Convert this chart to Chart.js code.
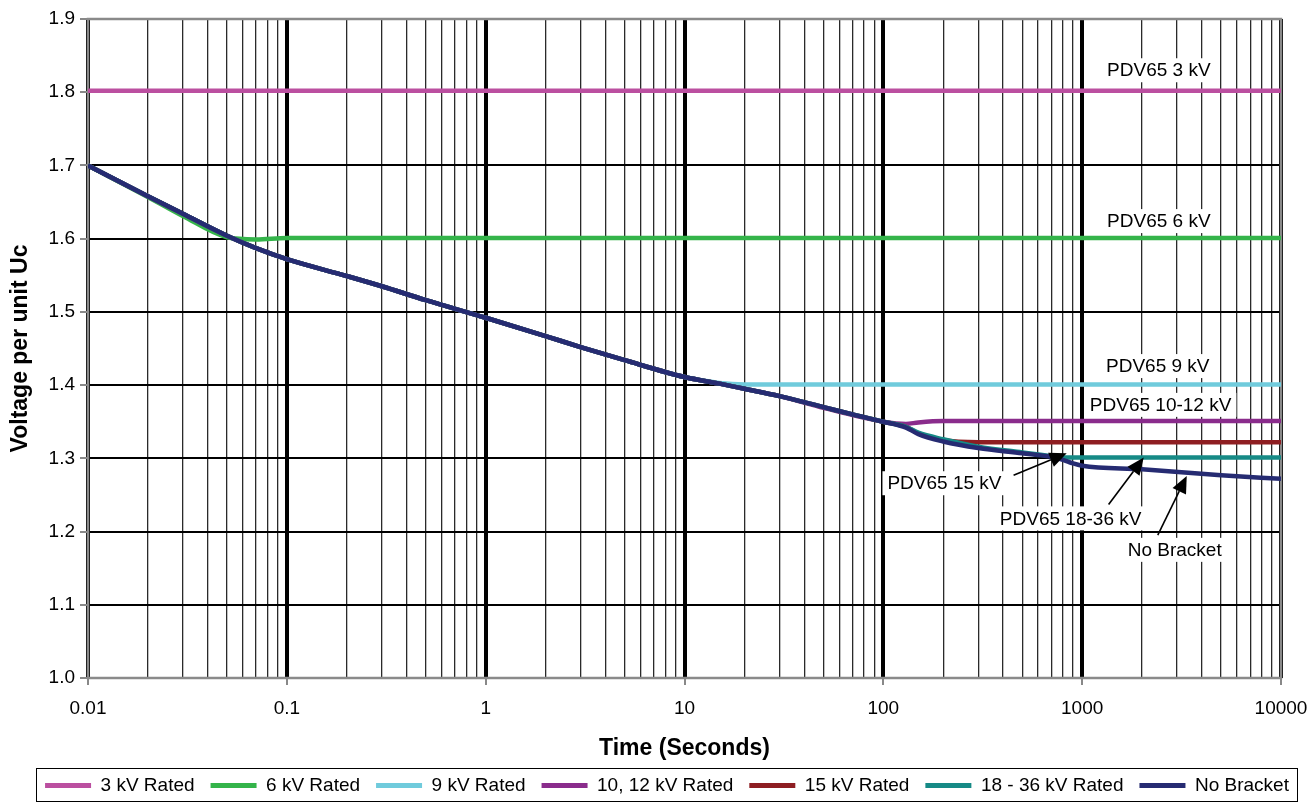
<!DOCTYPE html>
<html>
<head>
<meta charset="utf-8">
<title>Voltage per unit Uc vs time</title>
<script src="https://cdn.jsdelivr.net/npm/chart.js@4.4.1/dist/chart.umd.min.js"></script>
<style>
    html, body { margin: 0; padding: 0; background: #ffffff; }
    #wrap { width: 1310px; height: 803px; }
</style>
</head>
<body>
<div id="wrap"><canvas id="mainChart" width="1310" height="803"></canvas></div>
<script>
// time points (seconds), shared by every curve
const times = [0.01, 0.02, 0.03, 0.05, 0.07, 0.1, 0.2, 0.3, 0.5, 1, 2, 3, 5, 10, 15, 20,
               30, 50, 70, 100, 130, 150, 200, 300, 500, 700, 800, 900, 1000, 2000, 5000, 10000]

// voltage per unit Uc, one value per time point
const rated3kV = [1.802, 1.802, 1.802, 1.802, 1.802, 1.802, 1.802, 1.802, 1.802, 1.802, 1.802, 1.802, 1.802, 1.802, 1.802, 1.802,
                  1.802, 1.802, 1.802, 1.802, 1.802, 1.802, 1.802, 1.802, 1.802, 1.802, 1.802, 1.802, 1.802, 1.802, 1.802, 1.802]
const rated6kV = [1.700, 1.657, 1.631, 1.602, 1.599, 1.601, 1.601, 1.601, 1.601, 1.601, 1.601, 1.601, 1.601, 1.601, 1.601, 1.601,
                  1.601, 1.601, 1.601, 1.601, 1.601, 1.601, 1.601, 1.601, 1.601, 1.601, 1.601, 1.601, 1.601, 1.601, 1.601, 1.601]
const rated9kV = [1.700, 1.658, 1.634, 1.604, 1.587, 1.572, 1.549, 1.535, 1.516, 1.492, 1.467, 1.452, 1.434, 1.411, 1.403, 1.401,
                  1.401, 1.401, 1.401, 1.401, 1.401, 1.401, 1.401, 1.401, 1.401, 1.401, 1.401, 1.401, 1.401, 1.401, 1.401, 1.401]
const rated10kV = [1.700, 1.658, 1.634, 1.604, 1.587, 1.572, 1.549, 1.535, 1.516, 1.492, 1.467, 1.452, 1.434, 1.411, 1.402, 1.395,
                   1.385, 1.369, 1.359, 1.350, 1.347, 1.349, 1.351, 1.351, 1.351, 1.351, 1.351, 1.351, 1.351, 1.351, 1.351, 1.351]
const rated15kV = [1.700, 1.658, 1.634, 1.604, 1.587, 1.572, 1.549, 1.535, 1.516, 1.492, 1.467, 1.452, 1.434, 1.411, 1.402, 1.395,
                   1.385, 1.370, 1.360, 1.350, 1.343, 1.334, 1.325, 1.322, 1.322, 1.322, 1.322, 1.322, 1.322, 1.322, 1.322, 1.322]
const rated18kV = [1.700, 1.658, 1.634, 1.604, 1.587, 1.572, 1.549, 1.535, 1.516, 1.492, 1.467, 1.452, 1.434, 1.411, 1.402, 1.395,
                   1.385, 1.370, 1.360, 1.350, 1.343, 1.335, 1.326, 1.316, 1.308, 1.303, 1.301, 1.301, 1.301, 1.301, 1.301, 1.301]
const noBracket = [1.700, 1.658, 1.634, 1.604, 1.587, 1.572, 1.549, 1.535, 1.516, 1.492, 1.467, 1.452, 1.434, 1.411, 1.402, 1.395,
                   1.385, 1.370, 1.360, 1.350, 1.342, 1.333, 1.323, 1.314, 1.307, 1.302, 1.298, 1.293, 1.290, 1.285, 1.277, 1.272]

const seriesNames = ['3 kV Rated', '6 kV Rated', '9 kV Rated', '10, 12 kV Rated', '15 kV Rated', '18 - 36 kV Rated', 'No Bracket']
const seriesValues = [rated3kV, rated6kV, rated9kV, rated10kV, rated15kV, rated18kV, noBracket]
const seriesColors = ['#BB4FA0', '#34B44A', '#70CBDC', '#8A2C8C', '#8E1E22', '#168A86', '#262B72']

// axes
const decades = [0.01, 0.1, 1, 10, 100, 1000, 10000]
const xTickLabels = ['0.01', '0.1', '1', '10', '100', '1000', '10000']
const yTickValues = [1.0, 1.1, 1.2, 1.3, 1.4, 1.5, 1.6, 1.7, 1.8, 1.9]

// callout labels (data units: time, voltage)
const noteTexts = ['PDV65 3 kV', 'PDV65 6 kV', 'PDV65 9 kV', 'PDV65 10-12 kV', 'PDV65 15 kV', 'PDV65 18-36 kV', 'No Bracket']
const noteTimes = [2430, 2430, 2400, 2480, 203, 875, 2920]
const noteVolts = [1.830, 1.624, 1.426, 1.373, 1.266, 1.218, 1.175]

// callout arrows, from label to curve
const arrowFromTimes = [452, 1358, 2400]
const arrowFromVolts = [1.277, 1.237, 1.195]
const arrowToTimes = [836, 2040, 3357]
const arrowToVolts = [1.307, 1.301, 1.276]

// minor log grid: 1..9 in each decade
const gridTimes = []
decades.forEach(d => {
    for (let m = 1; m <= 9; m++) {
        if (d * m <= 10000) gridTimes.push(d === 10000 ? d : d * m)
        if (d === 10000) break
    }
})

Chart.defaults.font.family = "'Liberation Sans', Arial, sans-serif"
Chart.defaults.color = '#000'

const plotFrame = {
    id: 'plotFrame',
    beforeDatasetsDraw(chart) {
        const {ctx, chartArea: a} = chart
        ctx.save()
        ctx.strokeStyle = '#8a8a8a'
        ctx.lineWidth = 2.5
        ctx.strokeRect(a.left, a.top, a.right - a.left, a.bottom - a.top)
        ctx.restore()
    }
}

const callouts = {
    id: 'callouts',
    afterDatasetsDraw(chart) {
        const {ctx} = chart
        const xs = chart.scales.x
        const ys = chart.scales.y
        ctx.save()
        ctx.font = "19px 'Liberation Sans', Arial, sans-serif"
        ctx.textAlign = 'center'
        ctx.textBaseline = 'middle'
        noteTexts.forEach((t, i) => {
            const px = xs.getPixelForValue(noteTimes[i])
            const py = ys.getPixelForValue(noteVolts[i])
            const w = ctx.measureText(t).width
            ctx.fillStyle = '#fff'
            ctx.fillRect(px - w / 2 - 5, py - 12, w + 10, 24)
            ctx.fillStyle = '#000'
            ctx.fillText(t, px, py + 1)
        })
        ctx.strokeStyle = '#000'
        ctx.fillStyle = '#000'
        ctx.lineWidth = 1.6
        arrowFromTimes.forEach((t, i) => {
            const x0 = xs.getPixelForValue(t)
            const y0 = ys.getPixelForValue(arrowFromVolts[i])
            const x1 = xs.getPixelForValue(arrowToTimes[i])
            const y1 = ys.getPixelForValue(arrowToVolts[i])
            const ang = Math.atan2(y1 - y0, x1 - x0)
            const len = 17
            const half = 7.5
            const bx = x1 - len * Math.cos(ang)
            const by = y1 - len * Math.sin(ang)
            ctx.beginPath()
            ctx.moveTo(x0, y0)
            ctx.lineTo(bx, by)
            ctx.stroke()
            ctx.beginPath()
            ctx.moveTo(x1, y1)
            ctx.lineTo(bx + half * Math.sin(ang), by - half * Math.cos(ang))
            ctx.lineTo(bx - half * Math.sin(ang), by + half * Math.cos(ang))
            ctx.closePath()
            ctx.fill()
        })
        ctx.restore()
    }
}

const legendFrame = {
    id: 'legendFrame',
    afterDraw(chart) {
        const boxes = chart.legend && chart.legend.legendHitBoxes
        if (!boxes || !boxes.length) return
        const left = Math.min(...boxes.map(b => b.left))
        const right = Math.max(...boxes.map(b => b.left + b.width))
        const top = Math.min(...boxes.map(b => b.top))
        const bottom = Math.max(...boxes.map(b => b.top + b.height))
        const {ctx} = chart
        ctx.save()
        ctx.strokeStyle = '#000'
        ctx.lineWidth = 1
        ctx.strokeRect(Math.round(left - 9) + 0.5, Math.round(top - 8) + 0.5,
                       Math.round(right - left + 17), Math.round(bottom - top + 14))
        ctx.restore()
    }
}

const datasets = seriesNames.map((name, i) => ({
    label: name,
    data: times.map((t, k) => ({x: t, y: seriesValues[i][k]})),
    borderColor: seriesColors[i],
    backgroundColor: seriesColors[i],
    borderWidth: 4.5,
    pointRadius: 0,
    cubicInterpolationMode: 'monotone',
    order: seriesNames.length - i
}))

const isMajor = c => c.tick && decades.includes(c.tick.value)

new Chart(document.getElementById('mainChart'), {
    type: 'line',
    data: {datasets: datasets},
    plugins: [plotFrame, callouts, legendFrame],
    options: {
        responsive: false,
        devicePixelRatio: 1,
        animation: false,
        layout: {padding: {left: 24, right: 0, top: 19, bottom: -2}},
        plugins: {
            tooltip: {enabled: false},
            legend: {
                position: 'bottom',
                labels: {
                    boxWidth: 46,
                    boxHeight: 5,
                    padding: 16,
                    font: {size: 19},
                    color: '#000',
                    generateLabels: chart => Chart.defaults.plugins.legend.labels.generateLabels(chart)
                        .map(l => Object.assign(l, {lineWidth: 0}))
                        .sort((a, b) => a.datasetIndex - b.datasetIndex)
                }
            }
        },
        scales: {
            x: {
                type: 'logarithmic',
                min: 0.01,
                max: 10000,
                afterBuildTicks: axis => {
                    axis.ticks = gridTimes.map(v => ({value: v, major: decades.includes(v)}))
                },
                afterFit: axis => {
                    axis.height = 82
                    axis.paddingLeft = 0
                    axis.paddingRight = 29
                },
                ticks: {
                    autoSkip: false,
                    maxRotation: 0,
                    minRotation: 0,
                    padding: 12,
                    font: {size: 19},
                    color: '#000',
                    callback: (v, i, ticks) => {
                        const k = decades.indexOf(ticks[i].value)
                        return k >= 0 ? xTickLabels[k] : ''
                    }
                },
                grid: {
                    color: c => isMajor(c) ? '#000' : '#2a2a2a',
                    lineWidth: c => isMajor(c) ? 4 : 1.3,
                    tickColor: c => isMajor(c) ? '#888' : 'rgba(0,0,0,0)',
                    tickWidth: 2,
                    tickLength: 7
                },
                border: {display: false},
                title: {
                    display: true,
                    text: 'Time (Seconds)',
                    color: '#000',
                    font: {size: 23, weight: 'bold'},
                    padding: {top: 0, bottom: -2}
                }
            },
            y: {
                min: 1.0,
                max: 1.9,
                afterBuildTicks: axis => {
                    axis.ticks = yTickValues.map(v => ({value: v}))
                },
                afterFit: axis => {
                    axis.width = 64
                },
                ticks: {
                    padding: 5,
                    font: {size: 19},
                    color: '#000',
                    callback: v => Number(v).toFixed(1)
                },
                grid: {
                    color: '#000',
                    lineWidth: 2,
                    tickColor: '#888',
                    tickWidth: 2,
                    tickLength: 8
                },
                border: {display: false},
                title: {
                    display: true,
                    text: 'Voltage per unit Uc',
                    color: '#000',
                    font: {size: 23, weight: 'bold'},
                    padding: {top: -17, bottom: 0}
                }
            }
        }
    }
})
</script>
</body>
</html>
